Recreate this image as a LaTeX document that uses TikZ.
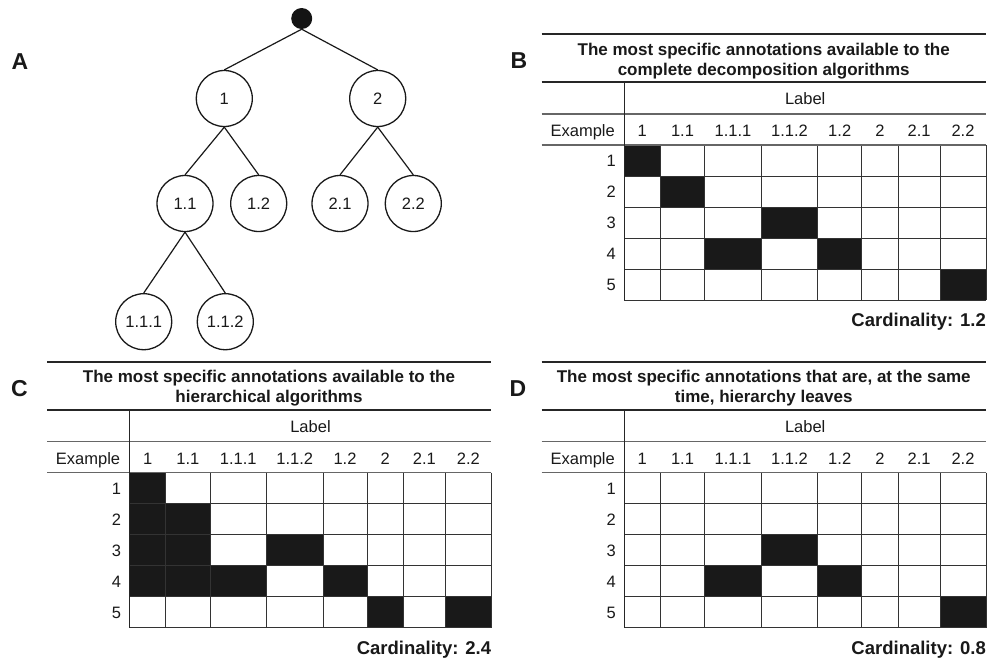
\documentclass[tikz,border=0pt]{standalone}
\usepackage{fontspec}
\setmainfont{Liberation Sans}
\newcommand{\fnorm}{\fontsize{16.5}{19}\selectfont}
\newcommand{\fttl}{\fontsize{17}{20}\selectfont\bfseries}
\newcommand{\fcard}{\fontsize{18.5}{21}\selectfont\bfseries}
\newcommand{\flet}{\fontsize{23}{26}\selectfont\bfseries}
\tikzset{
  txt/.style={font=\fnorm, inner sep=0pt, anchor=base, text=black!90},
  ttl/.style={font=\fttl, inner sep=0pt, anchor=base, text=black!90},
  card/.style={font=\fcard, inner sep=0pt, anchor=base east, text=black!90},
  letter/.style={font=\flet, inner sep=0pt, anchor=base, text=black!90},
  treenode/.style={circle, draw=black!90, line width=1.3pt, minimum size=56pt, inner sep=0pt, font=\fnorm, text=black!90},
  rootnode/.style={circle, fill=black!92, minimum size=21pt, inner sep=0pt},
  edge/.style={line width=1.2pt, draw=black!90},
  thickrule/.style={line width=2pt, draw=black!85},
  thinrule/.style={line width=1.3pt, draw=black!60},
  gridline/.style={line width=1pt, draw=black!80},
  divider/.style={line width=1.3pt, draw=black!85},
  cellfill/.style={fill=black!90},
}
% #1 prefix, #2 x, #3 y, #4 letter, #5 letter x, #6 title line 1, #7 title line 2, #8 cardinality, #9 filled cells (col/row)
\newcommand{\mkpanel}[9]{%
\begin{scope}[shift={(#2,#3)}]
  \foreach \c/\r in {#9} {
    \pgfmathsetmacro\xa{{82.6,118.6,163,219.6,276,320,356.6,398.3,444.3}[\c-1]}
    \pgfmathsetmacro\xb{{82.6,118.6,163,219.6,276,320,356.6,398.3,444.3}[\c]}
    \pgfmathsetmacro\ya{111+31*(\r-1)}
    \pgfmathsetmacro\yb{111+31*\r}
    \fill[cellfill] (\xa,\ya) rectangle (\xb,\yb);
  }
  \foreach \y in {142,173,204,235,266} \draw[gridline] (82.6,\y) -- (444.3,\y);
  \foreach \x in {118.6,163,219.6,276,320,356.6,398.3,444.3} \draw[gridline] (\x,111) -- (\x,266);
  \draw[thickrule] (0,0) -- (444.3,0);
  \draw[thickrule] (0,48.3) -- (444.3,48.3);
  \draw[thinrule] (0,80) -- (444.3,80);
  \draw[thinrule] (0,111) -- (444.3,111);
  \draw[divider] (82.6,48.3) -- (82.6,266);
  \node[letter] (#1let) at (#5,34.3) {#4};
  \node[ttl] (#1t1) at (222,21) {#6};
  \node[ttl] (#1t2) at (222,41) {#7};
  \node[txt] (#1lab) at (263.5,70.3) {Label};
  \node[txt] (#1ex) at (41,102.7) {Example};
  \foreach \n/\a/\b [count=\i] in {1/82.6/118.6, 1.1/118.6/163, 1.1.1/163/219.6, 1.1.2/219.6/276, 1.2/276/320, 2/320/356.6, 2.1/356.6/398.3, 2.2/398.3/444.3}
    \node[txt] (#1h\i) at ({(\a+\b)/2},102.7) {\n};
  \foreach \r in {1,...,5}
    \node[txt, anchor=base east] (#1r\r) at (74.3,{132.7+31*(\r-1)}) {\r};
  \node[card] (#1card) at (444.3,292.5) {Cardinality: #8};
\end{scope}}
\begin{document}
\begin{tikzpicture}[x=1pt,y=-1pt]
\useasboundingbox (0,0) rectangle (987,659);
% Panel A: tree
\node[letter] (la) at (20,69) {A};
\node[rootnode] (root) at (301.7,18.5) {};
\node[treenode] (n1) at (224.3,98.5) {1};
\node[treenode] (n2) at (377.7,98.5) {2};
\node[treenode] (n11) at (185,203.5) {1.1};
\node[treenode] (n12) at (258.7,203.5) {1.2};
\node[treenode] (n21) at (340,203.5) {2.1};
\node[treenode] (n22) at (413.3,203.5) {2.2};
\node[treenode] (n111) at (143.7,321.7) {1.1.1};
\node[treenode] (n112) at (225.3,321.7) {1.1.2};
\draw[edge] (root.south) -- (n1.north);
\draw[edge] (root.south) -- (n2.north);
\draw[edge] (n1.south) -- (n11.north);
\draw[edge] (n1.south) -- (n12.north);
\draw[edge] (n2.south) -- (n21.north);
\draw[edge] (n2.south) -- (n22.north);
\draw[edge] (n11.south) -- (n111.north);
\draw[edge] (n11.south) -- (n112.north);
% Panels
\mkpanel{B}{541.7}{34}{B}{-22.7}{The most specific annotations available to the}{complete decomposition algorithms}{1.2}{1/1,2/2,4/3,3/4,5/4,8/5}
\mkpanel{C}{47}{361.7}{C}{-27.5}{The most specific annotations available to the}{hierarchical algorithms}{2.4}{1/1,1/2,2/2,1/3,2/3,4/3,1/4,2/4,3/4,5/4,6/5,8/5}
\mkpanel{D}{541.7}{361.7}{D}{-23.7}{The most specific annotations that are, at the same}{time, hierarchy leaves}{0.8}{4/3,3/4,5/4,8/5}
\end{tikzpicture}
\end{document}
